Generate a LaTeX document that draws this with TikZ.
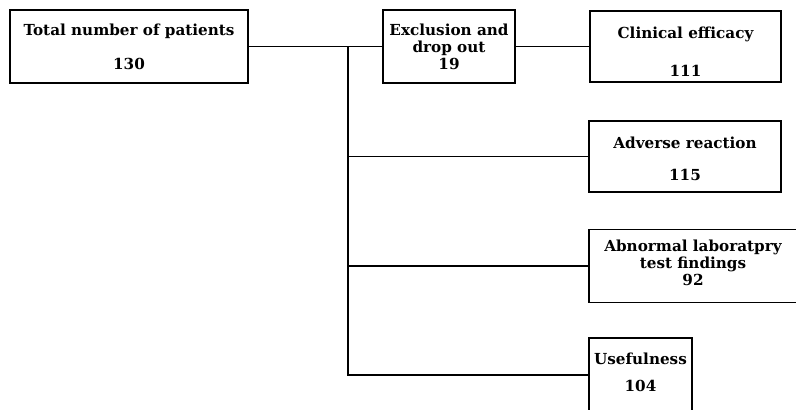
\documentclass[tikz,border=0pt]{standalone}
\usepackage{fontspec}
\setmainfont{DejaVu Serif}
\newcommand{\uppad}[1]{\rule{0pt}{#1}}
\newcommand{\downpad}[1]{\rule[-#1]{0pt}{#1}}
\begin{document}
\begin{tikzpicture}[x=1pt,y=-1pt,
        box/.style={
            rectangle,
            draw,
            line width=1.1pt,
            align=center,
            inner sep=0pt,
            font=\bfseries\fontsize{15.2}{17}\selectfont
        },
        link/.style={
            line width=1.1pt
        }
    ]
        \useasboundingbox (0,0) rectangle (796,410);

        \node[box, minimum width=238pt, minimum height=73pt] (total) at (129,46.5) {\uppad{13pt}Total number of patients\\[17pt]130};
        \node[box, minimum width=132pt, minimum height=73pt] (excl) at (449,46.5) {Exclusion and\\drop out\\19};
        \node[box, minimum width=191pt, minimum height=71pt] (clin) at (685.5,46.5) {\uppad{21pt}Clinical efficacy\\[21pt]111};
        \node[box, minimum width=192pt, minimum height=71pt] (adv) at (685,156.5) {\uppad{17pt}Adverse reaction\\[15pt]115};
        \node[box, minimum width=208pt, minimum height=73pt] (lab) at (693,266) {Abnormal laboratpry\\test findings\\92\downpad{7pt}};
        \node[box, minimum width=103pt, minimum height=74pt] (use) at (640.5,375) {Usefulness\\[10pt]104\downpad{6pt}};

        \coordinate (trunk) at (348,46.5);

        \draw[link] (total.east) -- (excl.west);
        \draw[link] (excl.east) -- (clin.west);
        \draw[link] (trunk) |- (adv.west);
        \draw[link] (trunk) |- (lab.west);
        \draw[link] (trunk) |- (use.west);

    \end{tikzpicture}
\end{document}
